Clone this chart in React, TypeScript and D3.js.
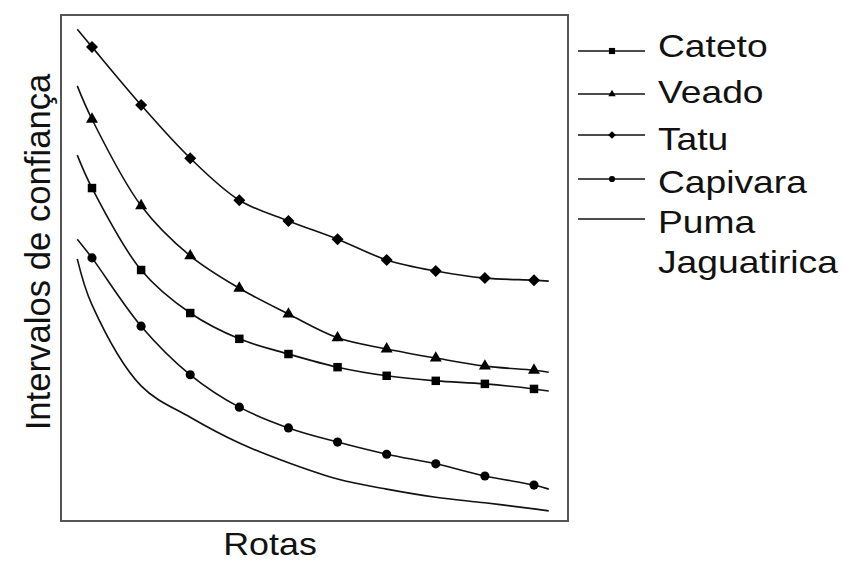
import * as d3 from 'd3';

// Rotas (x) and the curve extents drawn past the first / last marker
const ROUTES = [1, 2, 3, 4, 5, 6, 7, 8, 9, 10];
const LINE_START = 0.7;
const LINE_END = 10.3;

// Intervalos de confiança (no scale printed, read off the picture on 0-100)
const TATU = [93.7, 82.2, 71.7, 63.4, 59.3, 55.7, 51.6, 49.4, 48.0, 47.6];
const TATU_ENDS = [97.2, 47.4];
const VEADO = [79.4, 62.3, 52.4, 46.0, 40.9, 36.2, 34.0, 32.2, 30.6, 29.8];
const VEADO_ENDS = [86.0, 29.4];
const CATETO = [65.8, 49.6, 41.1, 36.0, 33.0, 30.4, 28.7, 27.7, 27.1, 26.1];
const CATETO_ENDS = [72.3, 25.7];
const CAPIVARA = [52.0, 38.5, 28.9, 22.5, 18.4, 15.6, 13.2, 11.3, 8.9, 7.1];
const CAPIVARA_ENDS = [55.7, 6.3];
const PUMA = [42.7, 26.7, 20.5, 15.4, 11.5, 8.3, 6.3, 4.7, 3.6, 2.4];
const PUMA_ENDS = [51.8, 2.0];

const LEGEND_LABELS = ['Cateto', 'Veado', 'Tatu', 'Capivara', 'Puma', 'Jaguatirica'];

type Marker = 'square' | 'triangle' | 'diamond' | 'circle' | 'none';

type Series = {
  name: string;
  values: number[];
  ends: number[];
  marker: Marker;
};

const SERIES: Series[] = [
  { name: 'Tatu', values: TATU, ends: TATU_ENDS, marker: 'diamond' },
  { name: 'Veado', values: VEADO, ends: VEADO_ENDS, marker: 'triangle' },
  { name: 'Cateto', values: CATETO, ends: CATETO_ENDS, marker: 'square' },
  { name: 'Capivara', values: CAPIVARA, ends: CAPIVARA_ENDS, marker: 'circle' },
  { name: 'Puma', values: PUMA, ends: PUMA_ENDS, marker: 'none' },
];

const LEGEND_MARKERS: Marker[] = ['square', 'triangle', 'diamond', 'circle', 'none'];

const W = 843;
const H = 562;
const BOX = { left: 61, right: 568, top: 15, bottom: 521 };
const FONT = '"Liberation Sans", Arial, Helvetica, sans-serif';

function symbolPath(marker: Marker, big: boolean): { d: string; rotate: number } | null {
  switch (marker) {
    case 'square':
      return { d: d3.symbol(d3.symbolSquare, big ? 72 : 38)() ?? '', rotate: 0 };
    case 'triangle':
      return { d: d3.symbol(d3.symbolTriangle, big ? 62 : 24)() ?? '', rotate: 0 };
    case 'diamond':
      return { d: d3.symbol(d3.symbolSquare, big ? 72 : 30)() ?? '', rotate: 45 };
    case 'circle':
      return { d: d3.symbol(d3.symbolCircle, big ? 66 : 30)() ?? '', rotate: 0 };
    default:
      return null;
  }
}

export default function App() {
  const x = d3.scaleLinear().domain([1, 10]).range([92, 534]);
  const y = d3.scaleLinear().domain([0, 100]).range([BOX.bottom, BOX.top]);

  const line = d3
    .line<[number, number]>()
    .x((d) => x(d[0]))
    .y((d) => y(d[1]))
    .curve(d3.curveCatmullRom.alpha(0.5));

  const legendRows = [51, 94, 135, 179, 219];
  const labelBaselines = [57, 103, 150, 193, 233, 273];

  return (
    <svg
      width={W}
      height={H}
      style={{ position: 'absolute', left: 0, top: 0, background: '#fff' }}
      fontFamily={FONT}
    >
      <rect
        x={BOX.left}
        y={BOX.top}
        width={BOX.right - BOX.left}
        height={BOX.bottom - BOX.top}
        fill="none"
        stroke="#555"
        strokeWidth={2}
      />

      {SERIES.map((s) => {
        const pts: [number, number][] = [
          [LINE_START, s.ends[0]],
          ...ROUTES.map((r, i) => [r, s.values[i]] as [number, number]),
          [LINE_END, s.ends[1]],
        ];
        const sym = symbolPath(s.marker, true);
        return (
          <g key={s.name}>
            <path d={line(pts) ?? ''} fill="none" stroke="#111" strokeWidth={1.6} />
            {sym &&
              ROUTES.map((r, i) => (
                <path
                  key={r}
                  d={sym.d}
                  fill="#000"
                  transform={`translate(${x(r)},${y(s.values[i])}) rotate(${sym.rotate})`}
                />
              ))}
          </g>
        );
      })}

      {LEGEND_MARKERS.map((m, i) => {
        const sym = symbolPath(m, false);
        return (
          <g key={i}>
            <line x1={578} x2={645} y1={legendRows[i]} y2={legendRows[i]} stroke="#111" strokeWidth={1.6} />
            {sym && (
              <path d={sym.d} fill="#000" transform={`translate(612,${legendRows[i]}) rotate(${sym.rotate})`} />
            )}
          </g>
        );
      })}

      {LEGEND_LABELS.map((t, i) => (
        <text
          key={t}
          transform={`translate(658,${labelBaselines[i]}) scale(1.2,1)`}
          fontSize={31}
          fill="#111"
        >
          {t}
        </text>
      ))}

      <text
        transform="translate(270,555) scale(1.12,1)"
        textAnchor="middle"
        fontSize={32}
        fill="#111"
      >
        Rotas
      </text>

      <text
        transform="translate(50,252) rotate(-90)"
        textAnchor="middle"
        fontSize={34.7}
        fill="#111"
      >
        Intervalos de confiança
      </text>
    </svg>
  );
}
